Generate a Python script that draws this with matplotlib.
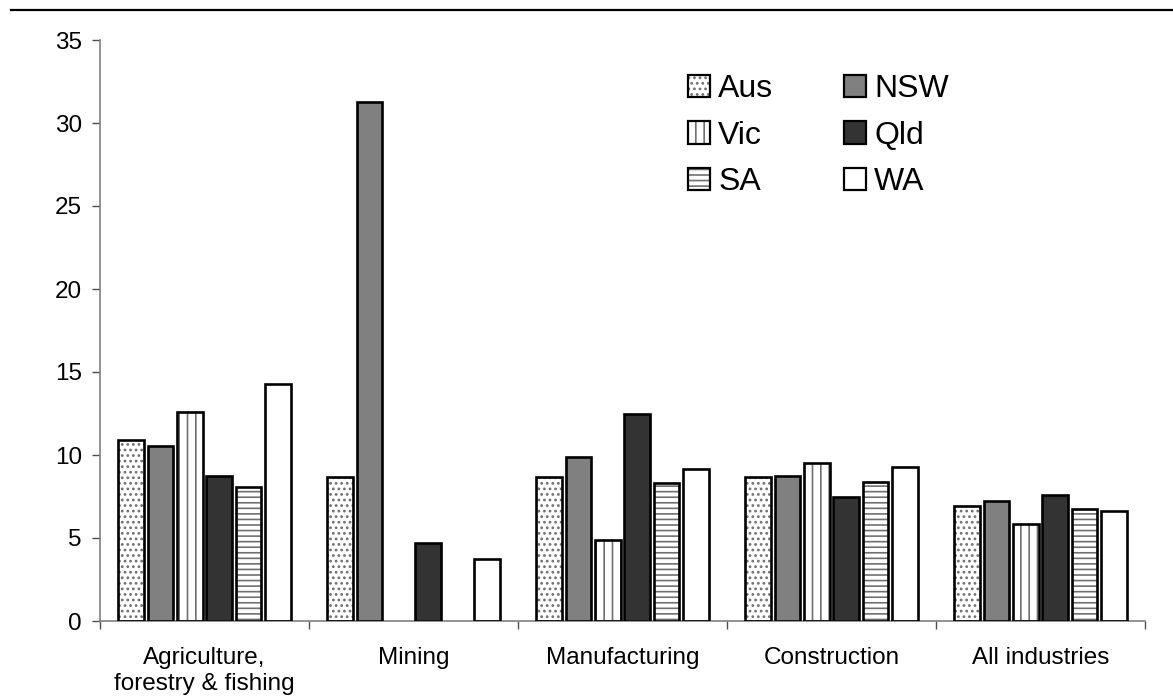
import numpy as np
import matplotlib
matplotlib.use("Agg")
import matplotlib.pyplot as plt
from matplotlib.patches import Patch
from matplotlib.lines import Line2D

plt.rcParams['font.family'] = ['Liberation Sans', 'DejaVu Sans']
plt.rcParams['hatch.linewidth'] = 1.2

industries = ["Agriculture,\nforestry & fishing", "Mining", "Manufacturing",
              "Construction", "All industries"]
states = ["Aus", "NSW", "Vic", "Qld", "SA", "WA"]

aus = [10.9, 8.7, 8.7, 8.65, 6.9]
nsw = [10.55, 31.25, 9.9, 8.75, 7.2]
vic = [12.6, np.nan, 4.85, 9.5, 5.85]
qld = [8.75, 4.7, 12.45, 7.45, 7.6]
sa = [8.1, np.nan, 8.3, 8.4, 6.75]
wa = [14.3, 3.75, 9.15, 9.3, 6.6]
series = [aus, nsw, vic, qld, sa, wa]

# fill colour and hatch for each state
fills = ["white", "#808080", "white", "#333333", "white", "white"]
hatches = ["...", None, "||", None, "---", None]
hatch_col = "#707070"

fig = plt.figure(figsize=(11.73, 6.99), dpi=100)
ax = fig.add_axes([100 / 1173, 1 - 621 / 699, 1045 / 1173, 581 / 699])

x = np.arange(len(industries)) + 0.5
pitch = 0.141
width = 0.122
handles = []
for i, vals in enumerate(series):
    pos = x + (i - 2.5) * pitch
    # hatch layer in grey, then black outline on top
    ax.bar(pos, vals, width, color=fills[i], hatch=hatches[i],
           edgecolor=hatch_col, linewidth=0, zorder=2)
    ax.bar(pos, vals, width, fill=False, edgecolor="black",
           linewidth=1.9, zorder=3)
    h1 = Patch(facecolor=fills[i], hatch=hatches[i], edgecolor=hatch_col, linewidth=0)
    h2 = Patch(fill=False, edgecolor="black", linewidth=1.6)
    handles.append((h1, h2))

ax.set_xlim(0, len(industries))
ax.set_ylim(0, 35)
ax.set_yticks(range(0, 36, 5))
ax.set_xticks(range(0, len(industries) + 1))
ax.set_xticklabels([])
ax.set_xticks(x, minor=True)
ax.set_xticklabels(industries, minor=True, fontsize=17.5)
ax.tick_params(axis='x', which='minor', length=0, pad=19)
ax.tick_params(axis='x', which='major', length=6, width=1, color="#505050")
ax.tick_params(axis='y', length=6, width=1, color="#505050", labelsize=17.5, pad=7)

for s in ["top", "right"]:
    ax.spines[s].set_visible(False)
for s in ["left", "bottom"]:
    ax.spines[s].set_color("#808080")
    ax.spines[s].set_linewidth(1.2)

# legend: column-wise fill gives Aus/NSW, Vic/Qld, SA/WA rows
order = [0, 2, 4, 1, 3, 5]
leg = ax.legend([handles[k] for k in order], [states[k] for k in order],
                ncol=2, frameon=False, fontsize=23, loc='upper left',
                bbox_to_anchor=(672 / 1173, 1 - 58 / 699),
                bbox_transform=fig.transFigure,
                handlelength=0.7, handleheight=0.7, handletextpad=0.25,
                columnspacing=2.2, labelspacing=0.52, borderpad=0)

# rule across the top of the page
fig.add_artist(Line2D([11 / 1173, 1.0], [1 - 10 / 699, 1 - 10 / 699],
                      color="black", linewidth=1.6, transform=fig.transFigure))

fig.savefig("out.png", dpi=100)
